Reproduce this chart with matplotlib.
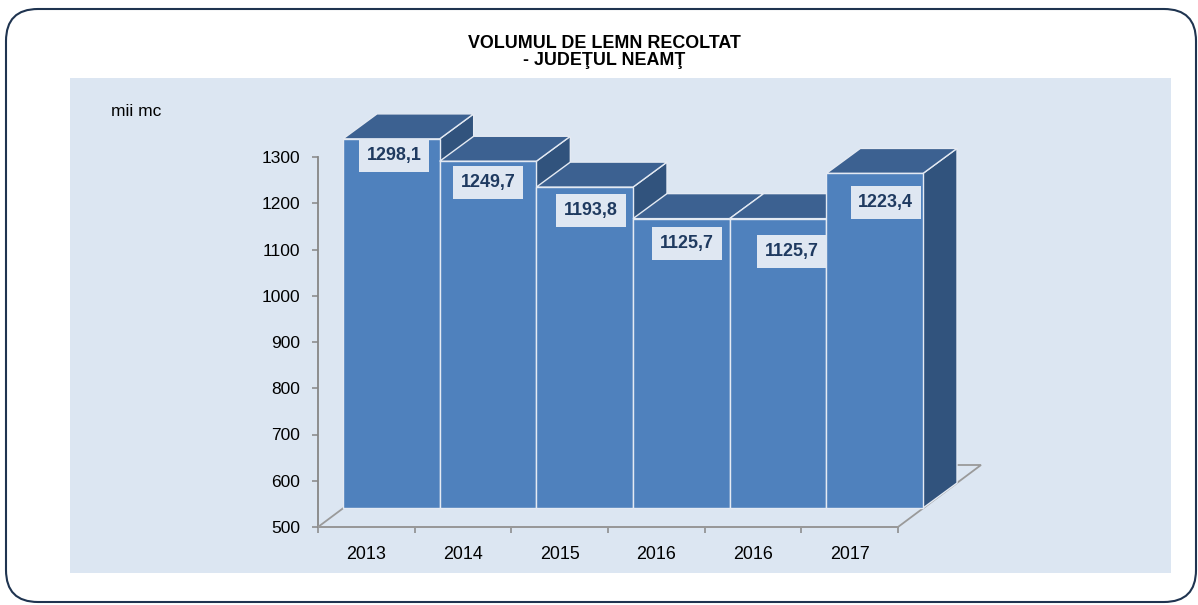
import matplotlib
matplotlib.use("Agg")
import matplotlib.pyplot as plt
from matplotlib import font_manager
from matplotlib.patches import Polygon, Rectangle, FancyBboxPatch
from matplotlib.transforms import IdentityTransform

# ---- data ----
years = ["2013", "2014", "2015", "2016", "2016", "2017"]
values = [1298.1, 1249.7, 1193.8, 1125.7, 1125.7, 1223.4]
value_labels = ["1298,1", "1249,7", "1193,8", "1125,7", "1125,7", "1223,4"]
y_ticks = [500, 600, 700, 800, 900, 1000, 1100, 1200, 1300]
title = "VOLUMUL DE LEMN RECOLTAT\n- JUDEŢUL NEAMŢ"
unit_label = "mii mc"

# ---- style ----
names = {f.name for f in font_manager.fontManager.ttflist}
if "Liberation Sans Narrow" in names:
    FONT, k = "Liberation Sans Narrow", 1.0
else:
    FONT, k = "Liberation Sans", 0.86
plt.rcParams["font.family"] = [FONT, "DejaVu Sans"]

W, H, DPI = 1198, 605, 100
PANEL = "#DCE6F2"
FRONT = "#4F81BD"
TOP = "#3C6191"
SIDE = "#31537D"
EDGE = "#E4EAF3"
AXIS = "#868686"
LABEL_TXT = "#1F3A60"

# 3D depth offsets in pixels (x right, y up)
D0 = (0, 0)
D1 = (25, 19)
D2 = (59, 44)
D3 = (83, 62)
# data-label placement offsets (pixels) relative to top-center of bar front
LBL_DX = [3, 0, 6, 5.5, 14, 11]
LBL_DY = [17, 21, 23, 25, 32.5, 29]

fig = plt.figure(figsize=(W / DPI, H / DPI), dpi=DPI)
fig.patch.set_facecolor("white")

def fy(y):
    return (H - y) / H

# outer rounded border
fig.patches.append(FancyBboxPatch((6, 3), 1190, 593,
                                  boxstyle="round,pad=0,rounding_size=32",
                                  transform=IdentityTransform(), facecolor="white",
                                  edgecolor="#1F3450", linewidth=1.5, zorder=-3))
# inner panel
fig.patches.append(Rectangle((70 / W, fy(573)), (1171 - 70) / W, (573 - 78) / H,
                             transform=fig.transFigure, facecolor=PANEL,
                             edgecolor="none", zorder=-2))

ax = fig.add_axes([318 / W, fy(527), 580 / W, 370 / H])
ax.set_xlim(0, len(values))
ax.set_ylim(y_ticks[0], y_ticks[-1])
ax.patch.set_visible(False)
for s in ("top", "right"):
    ax.spines[s].set_visible(False)
for s in ("left", "bottom"):
    ax.spines[s].set_color(AXIS)
    ax.spines[s].set_linewidth(1.3)

ax.set_yticks(y_ticks)
ax.set_yticklabels([str(t) for t in y_ticks], fontsize=14.5 * k, color="black")
ax.tick_params(axis="y", direction="out", length=4.5, width=1.1, color=AXIS, pad=8.5)

n = len(values)
ax.set_xticks(range(n + 1))
ax.set_xticklabels([""] * (n + 1))
ax.set_xticks([i + 0.5 for i in range(n)], minor=True)
ax.set_xticklabels(years, minor=True, fontsize=15 * k, color="black")
ax.tick_params(axis="x", which="major", direction="out", length=4.5, width=1.1, color=AXIS)
ax.tick_params(axis="x", which="minor", length=0, pad=13.5)

s = fig.dpi / 100.0

def P(x, v, d):
    X, Y = ax.transData.transform((x, v))
    return (X + d[0] * s, Y + d[1] * s)

base = y_ticks[0]
# floor outline
floor = [P(0, base, D0), P(n, base, D0), P(n, base, D3), P(0, base, D3)]
fig.patches.append(Polygon(floor, closed=True, transform=IdentityTransform(),
                           facecolor="none", edgecolor="#9A9A9A", linewidth=1.3, zorder=1))

# bars
for i, v in enumerate(values):
    x0, x1 = i, i + 1
    side = [P(x1, base, D1), P(x1, base, D2), P(x1, v, D2), P(x1, v, D1)]
    top = [P(x0, v, D1), P(x1, v, D1), P(x1, v, D2), P(x0, v, D2)]
    front = [P(x0, base, D1), P(x1, base, D1), P(x1, v, D1), P(x0, v, D1)]
    z = 2 + i * 0.1
    for pts, col in ((side, SIDE), (top, TOP), (front, FRONT)):
        fig.patches.append(Polygon(pts, closed=True, transform=IdentityTransform(),
                                   facecolor=col, edgecolor=EDGE, linewidth=1.0,
                                   joinstyle="miter", zorder=z))

# data labels
for i, (v, lab) in enumerate(zip(values, value_labels)):
    cx, cy = P(i + 0.5, v, D1)
    cx += LBL_DX[i] * s
    cy -= LBL_DY[i] * s
    bw, bh = 70 * s, 33 * s
    fig.patches.append(Rectangle((cx - bw / 2, cy - bh / 2), bw, bh,
                                 transform=IdentityTransform(), facecolor="#DFE7F2",
                                 edgecolor="none", zorder=4))
    fig.text(cx / fig.bbox.width, cy / fig.bbox.height, lab, ha="center", va="center",
             fontsize=15 * k, fontweight="bold", color=LABEL_TXT, zorder=5)

# title and unit
fig.text(604 / W, fy(52), title, ha="center", va="center", fontsize=15 * k,
         fontweight="bold", color="black", linespacing=1.05)
fig.text(111 / W, fy(111), unit_label, ha="left", va="center", fontsize=14.5 * k,
         color="black")

fig.savefig("out.png", dpi=DPI)
